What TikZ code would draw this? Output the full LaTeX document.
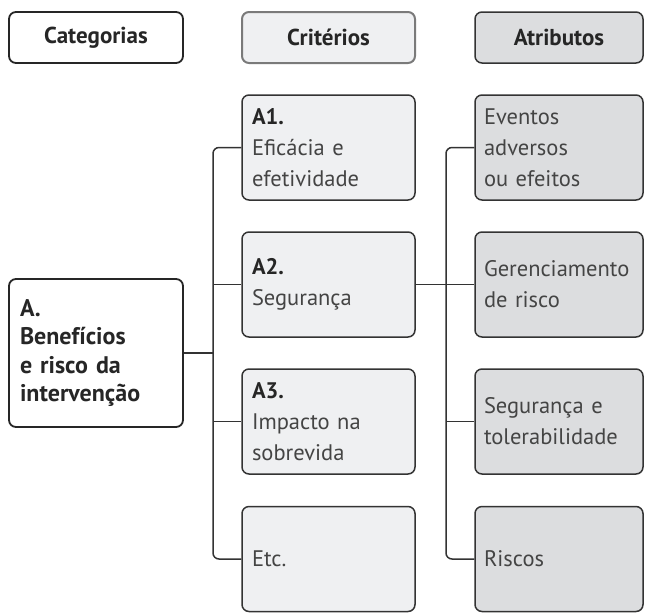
\documentclass[tikz,border=0pt]{standalone}
\usepackage{fontspec}
\setmainfont{PT Sans}
\definecolor{lineclr}{HTML}{333333}
\definecolor{critfill}{HTML}{EFF0F2}
\definecolor{atrfill}{HTML}{DCDDDF}
\definecolor{critborder}{HTML}{7A7A7A}
\definecolor{txt}{HTML}{444444}
\begin{document}
\begin{tikzpicture}[x=1pt,y=-1pt,
  box/.style={draw=lineclr, line width=1.5pt, rounded corners=7pt, inner xsep=10pt, inner ysep=0pt,
    font=\fontsize{22.5}{31}\selectfont, text=txt, align=left, anchor=center},
  head/.style={box, minimum height=51pt, font=\fontsize{23}{26}\selectfont\bfseries, text=black!85, align=center},
  catcol/.style={fill=white, draw=black!85, line width=1.8pt},
  crit/.style={box, fill=critfill, text width=153pt, minimum height=105pt},
  atr/.style={box, fill=atrfill, minimum height=105pt, inner xsep=9pt, text width=150pt},
  conn/.style={draw=lineclr, line width=1.5pt}
]
\useasboundingbox (0,0) rectangle (645,614);
% headers
\node[head, catcol, text width=154pt] (hcat) at (96,37.5) {Categorias};
\node[head, fill=critfill, draw=critborder, line width=2pt, text width=153pt] (hcrit) at (328.5,37.5) {Critérios};
\node[head, fill=atrfill, text width=148pt] (hatr) at (559,37.5) {Atributos};
% category
\node[box, catcol, text width=152pt, inner xsep=11pt, minimum height=148pt, font=\fontsize{24}{28.5}\selectfont\bfseries, text=black!85] (A) at (96,353)
  {A.\\Benefícios\\e risco da\\intervenção};
% criteria
\node[crit] (c1) at (328.5,147.5) {\textbf{\color{black!85}A1.}\\Eficácia e\\efetividade};
\node[crit] (c2) at (328.5,284.5) {\textbf{\color{black!85}A2.}\\Segurança};
\node[crit] (c3) at (328.5,421.5) {\textbf{\color{black!85}A3.}\\Impacto na\\sobrevida};
\node[crit] (c4) at (328.5,559) {Etc.};
% attributes
\node[atr] (a1) at (559,147.5) {Eventos\\adversos\\ou efeitos};
\node[atr] (a2) at (559,284.5) {Gerenciamento\\de risco};
\node[atr] (a3) at (559,421.5) {Segurança e\\tolerabilidade};
\node[atr] (a4) at (559,559) {Riscos};
% connectors
\coordinate (L) at (213,0);
\coordinate (R) at (446,0);
\draw[conn, rounded corners=6pt] (c1.west) -- (c1.west -| L) -- (c4.west -| L) -- (c4.west);
\draw[conn] (c2.west -| L) -- (c2.west);
\draw[conn] (c3.west -| L) -- (c3.west);
\draw[conn] (A.east) -- (A.east -| L);
\draw[conn, rounded corners=6pt] (a1.west) -- (a1.west -| R) -- (a4.west -| R) -- (a4.west);
\draw[conn] (c2.east) -- (a2.west);
\draw[conn] (a3.west -| R) -- (a3.west);
\end{tikzpicture}
\end{document}
